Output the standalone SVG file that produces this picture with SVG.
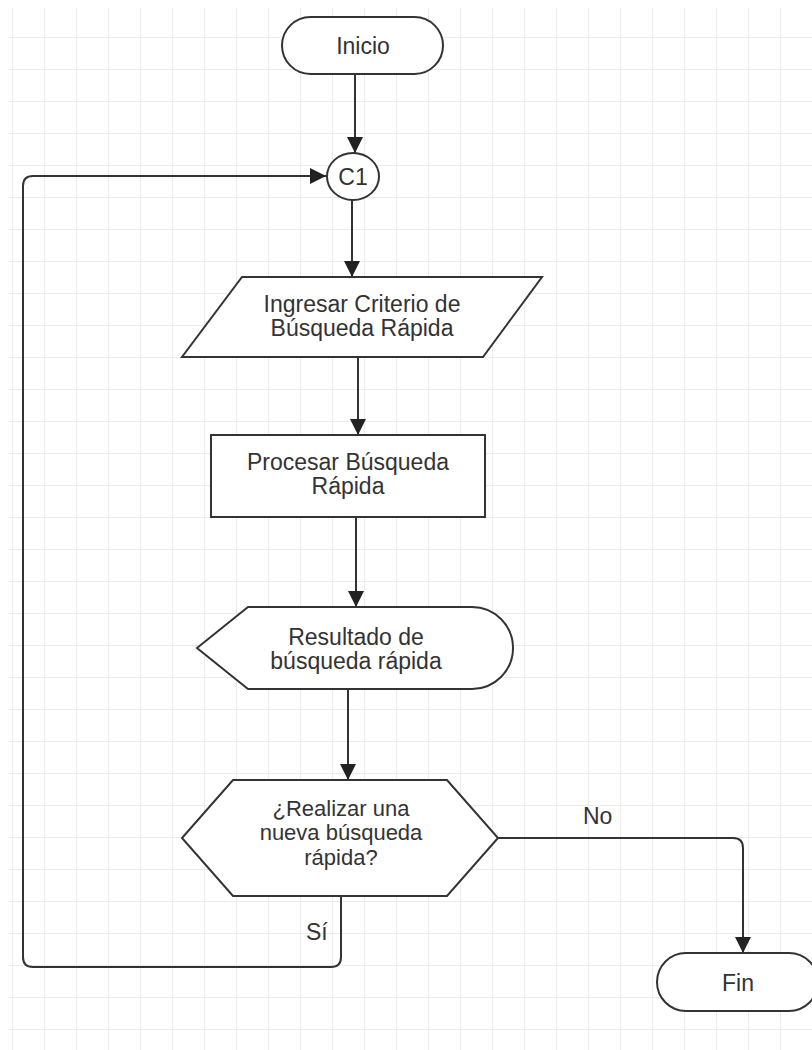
<svg xmlns="http://www.w3.org/2000/svg" width="812" height="1050" viewBox="0 0 812 1050">
  <defs>
    <pattern id="grid" x="-19" y="6" width="32" height="32" patternUnits="userSpaceOnUse">
      <path d="M32 0V32M0 32H32" fill="none" stroke="#ebebeb" stroke-width="2"/>
    </pattern>
    <marker id="arrow" markerWidth="16" markerHeight="16" refX="16" refY="8" orient="auto" markerUnits="userSpaceOnUse">
      <path d="M0 0L16 8L0 16Z" fill="#222"/>
    </marker>
  </defs>
  <style>
    .shape { fill: #fff; stroke: #333; stroke-width: 2; }
    .label { font-family: "Liberation Sans", Arial, sans-serif; font-size: 23px; fill: #333; text-anchor: middle; }
    .label-sm { font-size: 22px; }
    .edge { fill: none; stroke: #333; stroke-width: 2; }
    .edge-label { font-family: "Liberation Sans", Arial, sans-serif; font-size: 23px; fill: #333; }
  </style>

  <rect width="812" height="1050" fill="#fff"/>
  <rect x="8" y="8" width="804" height="1042" fill="url(#grid)"/>

  <g id="connectors">
    <path class="edge" d="M355 74V153" marker-end="url(#arrow)"/>
    <path class="edge" d="M352 200V277" marker-end="url(#arrow)"/>
    <path class="edge" d="M358 357V435" marker-end="url(#arrow)"/>
    <path class="edge" d="M356 517V607" marker-end="url(#arrow)"/>
    <path class="edge" d="M348 689V780" marker-end="url(#arrow)"/>
    <path class="edge" d="M498 838H733Q743 838 743 848V953" marker-end="url(#arrow)"/>
    <path class="edge" d="M341 896V957Q341 967 331 967H33Q23 967 23 957V186Q23 176 33 176H326" marker-end="url(#arrow)"/>
    <text class="edge-label" x="583" y="824">No</text>
    <text class="edge-label" x="306" y="940">Sí</text>
  </g>

  <g id="inicio">
    <rect class="shape" x="282" y="17" width="161" height="57" rx="28.5"/>
    <text class="label" x="363" y="53.5">Inicio</text>
  </g>

  <g id="c1">
    <ellipse class="shape" cx="353" cy="176.5" rx="26" ry="23.5"/>
    <text class="label" x="353" y="184.5">C1</text>
  </g>

  <g id="ingresar-criterio">
    <polygon class="shape" points="242,277 542,277 483,357 182,357"/>
    <text class="label" x="362" y="312">Ingresar Criterio de</text>
    <text class="label" x="362" y="336">Búsqueda Rápida</text>
  </g>

  <g id="procesar-busqueda">
    <rect class="shape" x="211" y="435" width="274" height="82"/>
    <text class="label" x="348" y="469.5">Procesar Búsqueda</text>
    <text class="label" x="348" y="493.5">Rápida</text>
  </g>

  <g id="resultado">
    <path class="shape" d="M197 648L248 607H472A41 41 0 0 1 472 689H248Z"/>
    <text class="label" x="356" y="645">Resultado de</text>
    <text class="label" x="356" y="668.5">búsqueda rápida</text>
  </g>

  <g id="nueva-busqueda">
    <polygon class="shape" points="233,780 447,780 498,838 447,896 233,896 182,838"/>
    <text class="label label-sm" x="341" y="815.5">¿Realizar una</text>
    <text class="label label-sm" x="341" y="840">nueva búsqueda</text>
    <text class="label label-sm" x="341" y="864.5">rápida?</text>
  </g>

  <g id="fin">
    <rect class="shape" x="657" y="953" width="161" height="58" rx="29"/>
    <text class="label" x="738" y="990.5">Fin</text>
  </g>
</svg>
